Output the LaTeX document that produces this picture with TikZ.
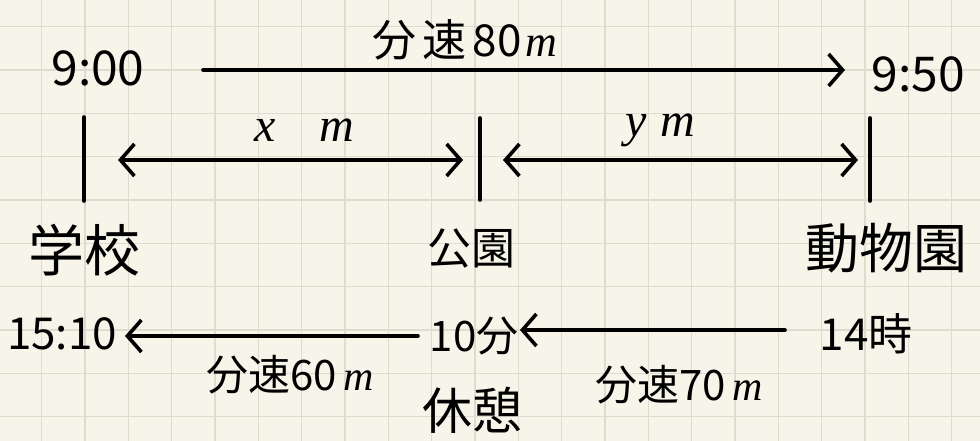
\documentclass[tikz,border=0pt]{standalone}
\usepackage{fontspec}
\setmainfont{Noto Sans CJK JP}
\newfontfamily\serfont{Liberation Serif}
\usetikzlibrary{arrows.meta}
\definecolor{paper}{HTML}{F7F5EA}
\definecolor{gridc}{HTML}{DDDCCF}
\newcommand{\im}[1]{{\serfont\itshape #1}}
\tikzset{
  lbl/.style={inner sep=0pt, anchor=center, font=\fontsize{#1}{#1}\selectfont},
  lbl/.default=40,
  stroke/.style={line width=3.6pt, line cap=round},
  tip/.style={-{Straight Barb[length=14pt,width=32pt,line width=3.6pt]}},
  bitip/.style={{Straight Barb[length=14pt,width=32pt,line width=3.6pt]}-{Straight Barb[length=14pt,width=32pt,line width=3.6pt]}}
}
\begin{document}
\begin{tikzpicture}[x=1pt,y=-1pt]
\fill[paper] (0,0) rectangle (980,441);
\useasboundingbox (0,0) rectangle (980,441);
\foreach \i in {1,...,22} \draw[gridc, line width=1.2pt] ({-1.6+43.33*\i},0) -- ({-1.6+43.33*\i},441);
\foreach \j in {0,...,10} \draw[gridc, line width=1.2pt] (0,{26.7+43.33*\j}) -- (980,{26.7+43.33*\j});

% top row
\node[lbl=48] (t900) at (98,68) {9:00};
\node[lbl=48] (t950) at (918,74) {9:50};
\node[lbl=44] (v80) at (465,40) {分\kern6pt 速\kern6pt 80\kern4pt\im{m}};
\coordinate (a1) at (203,70);
\coordinate (a2) at (845,70);
\draw[stroke, tip] (a1) -- (a2);

% bars
\coordinate (b1t) at (84,117); \coordinate (b1b) at (84,201);
\coordinate (b2t) at (480,118); \coordinate (b2b) at (480,200);
\coordinate (b3t) at (870,118); \coordinate (b3b) at (870,201);
\draw[stroke] (b1t) -- (b1b);
\draw[stroke] (b2t) -- (b2b);
\draw[stroke] (b3t) -- (b3b);

% distances
\coordinate (x1) at (118,160); \coordinate (x2) at (463,160);
\coordinate (y1) at (503,160); \coordinate (y2) at (858,160);
\draw[stroke, bitip] (x1) -- (x2);
\draw[stroke, bitip] (y1) -- (y2);
\node[lbl=48] (xm) at (304,130) {\im{x}\hspace{44pt}\im{m}};
\node[lbl=48] (ym) at (660,130) {\im{y}\hspace{14pt}\im{m}};

% places
\node[lbl=56] (school) at (84,250) {学校};
\node[lbl=44] (park) at (471,249) {公園};
\node[lbl=54] (zoo) at (886,248) {動物園};

% bottom row
\node[lbl=44] (t1510) at (62,334) {15:10};
\node[lbl=42] (rest10) at (474,336) {10分};
\node[lbl=44] (t14) at (866,334) {14時};
\coordinate (c1) at (418,336); \coordinate (c2) at (125,336);
\coordinate (d1) at (785,330); \coordinate (d2) at (520,330);
\draw[stroke, tip] (c1) -- (c2);
\draw[stroke, tip] (d1) -- (d2);
\node[lbl=42] (v60) at (290,375) {分速60\hspace{6pt}\im{m}};
\node[lbl=50] (rest) at (472,410) {休憩};
\node[lbl=42] (v70) at (679,385) {分速70\hspace{6pt}\im{m}};
\end{tikzpicture}
\end{document}
